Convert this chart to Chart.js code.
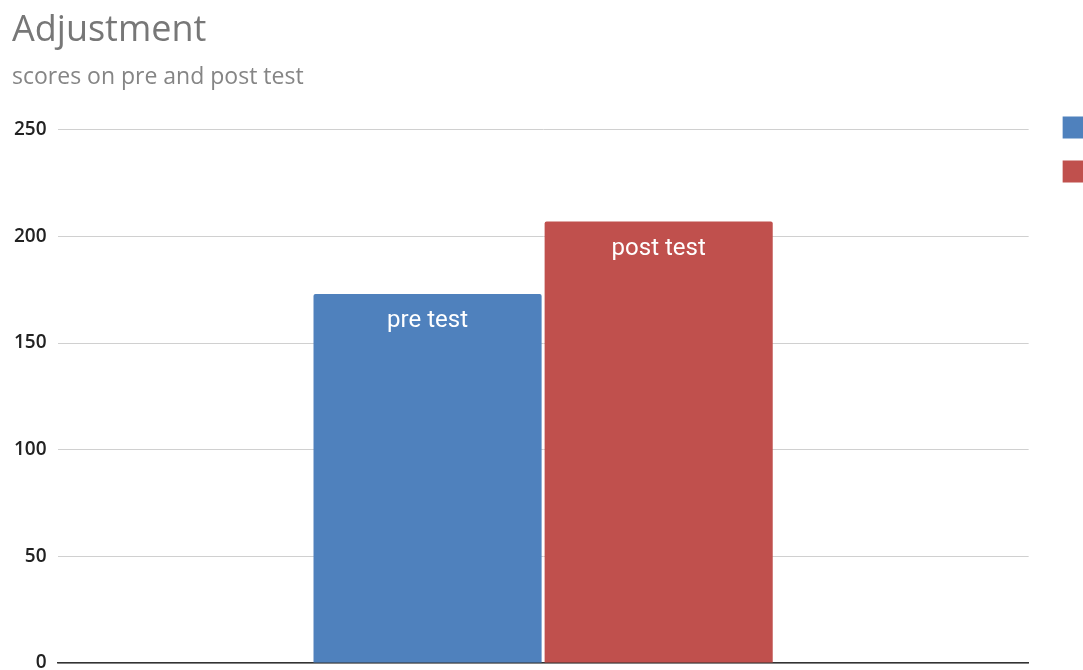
<!DOCTYPE html>
<html>
<head>
<meta charset="utf-8">
<script src="https://cdn.jsdelivr.net/npm/chart.js@4.4.1/dist/chart.umd.min.js"></script>
<style>
  html, body { margin: 0; padding: 0; background: #fff; overflow: hidden; }
  #wrap { width: 1160px; height: 670px; position: relative; }
</style>
</head>
<body>
<div id="wrap"><canvas id="adjChart"></canvas></div>
<script>
// data
const categories = [''];
const preTest = [173];
const postTest = [207];
const seriesNames = ['pre test', 'post test'];
const yTicks = [0, 50, 100, 150, 200, 250];

// draws the series name inside the top of each bar
const barNames = {
    id: 'barNames',
    afterDatasetsDraw(chart) {
        const ctx = chart.ctx;
        ctx.save();
        ctx.fillStyle = '#ffffff';
        ctx.font = '24px Roboto';
        ctx.textAlign = 'center';
        ctx.textBaseline = 'middle';
        chart.data.datasets.forEach((ds, i) => {
            chart.getDatasetMeta(i).data.forEach(bar => {
                ctx.fillText(ds.label, bar.x, bar.y + 27);
            });
        });
        ctx.restore();
    }
};

new Chart(document.getElementById('adjChart'), {
    type: 'bar',
    data: {
        labels: categories,
        datasets: [
            {
                label: seriesNames[0],
                data: preTest,
                backgroundColor: '#4F81BD',
                borderRadius: 2,
                borderSkipped: 'bottom'
            },
            {
                label: seriesNames[1],
                data: postTest,
                backgroundColor: '#C0504D',
                borderRadius: 2,
                borderSkipped: 'bottom'
            }
        ]
    },
    plugins: [barNames],
    options: {
        responsive: true,
        maintainAspectRatio: false,
        animation: false,
        layout: { padding: { left: 12, right: 0, top: 0, bottom: 7 } },
        datasets: {
            bar: { categoryPercentage: 0.476, barPercentage: 0.987 }
        },
        plugins: {
            title: {
                display: true,
                text: 'Adjustment',
                align: 'start',
                color: '#777777',
                font: { family: 'Open Sans', size: 36, weight: 'normal' },
                padding: { top: 9, bottom: 2 }
            },
            subtitle: {
                display: true,
                text: 'scores on pre and post test',
                align: 'start',
                color: '#858585',
                font: { family: 'Open Sans', size: 23, weight: 'normal' },
                padding: { top: 9, bottom: 39 }
            },
            legend: {
                position: 'right',
                align: 'start',
                title: {
                    display: true,
                    text: ' ',
                    font: { size: 12 },
                    padding: { top: 80, bottom: 0 }
                },
                labels: {
                    boxWidth: 21,
                    boxHeight: 22,
                    padding: 22,
                    color: '#333333',
                    font: { family: 'Roboto', size: 15 }
                }
            },
            tooltip: { enabled: false }
        },
        scales: {
            x: {
                ticks: { display: false },
                grid: { display: false, drawTicks: false },
                border: { display: true, color: '#333333', width: 1.5 },
                afterFit: s => { s.height = 0; }
            },
            y: {
                min: 0,
                max: 250,
                afterBuildTicks: axis => {
                    axis.ticks = yTicks.map(v => ({ value: v }));
                },
                afterFit: s => {
                    s.width -= 9;
                    s.paddingTop = 0;
                    s.paddingBottom = 0;
                },
                ticks: {
                    padding: 11,
                    color: '#222222',
                    font: { family: 'Open Sans', size: 19, weight: '600' }
                },
                grid: { color: '#d0d0d0', drawTicks: false },
                border: { display: false }
            },
            gap: {
                position: 'right',
                display: true,
                ticks: { display: false },
                grid: { display: false, drawTicks: false },
                border: { display: false },
                afterFit: s => { s.width = 12; }
            }
        }
    }
});
</script>
</body>
</html>
